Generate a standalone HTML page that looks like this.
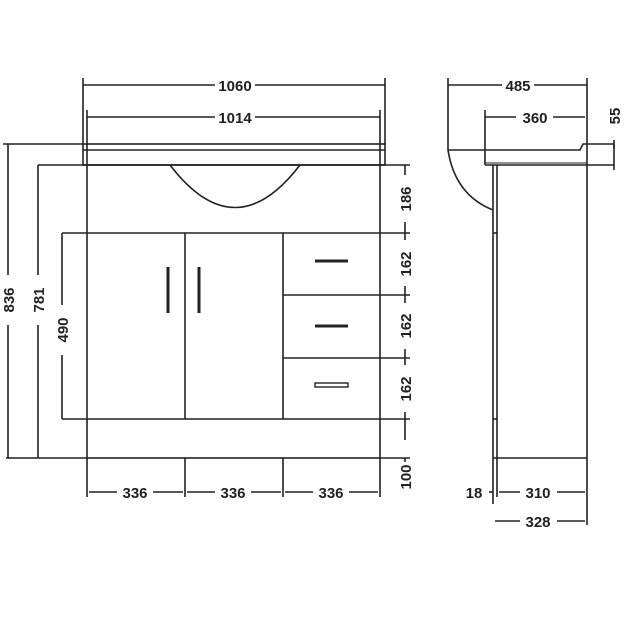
<!DOCTYPE html>
<html><head><style>
html,body{margin:0;padding:0;background:#fff}
svg{display:block}
text{font-family:"Liberation Sans",Arial,sans-serif;font-weight:bold;font-size:15px;fill:#222}
</style></head><body>
<svg width="629" height="629" viewBox="0 0 629 629" xmlns="http://www.w3.org/2000/svg">
<g stroke="#222" stroke-width="1.6" fill="none">
<!-- top dims -->
<line x1="83" y1="85" x2="215" y2="85"/><line x1="255" y1="85" x2="385" y2="85"/>
<line x1="83" y1="78" x2="83" y2="144"/><line x1="385" y1="78" x2="385" y2="144"/>
<line x1="87" y1="117" x2="215" y2="117"/><line x1="255" y1="117" x2="380" y2="117"/>
<line x1="87" y1="110" x2="87" y2="165"/><line x1="380" y1="110" x2="380" y2="165"/>
<!-- countertop -->
<rect x="83" y="144" width="302" height="21"/>
<line x1="83" y1="150" x2="385" y2="150"/>
<!-- basin -->
<path d="M170 165 Q235 250 300 165"/>
<!-- body -->
<rect x="87" y="165" width="293" height="293"/>
<line x1="62" y1="233" x2="380" y2="233"/>
<line x1="62" y1="419" x2="380" y2="419"/>
<line x1="185" y1="233" x2="185" y2="419"/>
<line x1="283" y1="233" x2="283" y2="419"/>
<line x1="283" y1="295" x2="410" y2="295"/>
<line x1="283" y1="358" x2="410" y2="358"/>
<!-- handles -->
<line x1="168" y1="267" x2="168" y2="313" stroke-width="3"/>
<line x1="199" y1="267" x2="199" y2="313" stroke-width="3"/>
<line x1="315" y1="261" x2="348" y2="261" stroke-width="3"/>
<line x1="315" y1="326" x2="348" y2="326" stroke-width="3"/>
<rect x="315" y="383" width="33" height="4" stroke-width="1.4"/>
<!-- left dims -->
<line x1="3" y1="144" x2="83" y2="144"/><line x1="6" y1="458" x2="87" y2="458"/>
<line x1="8" y1="144" x2="8" y2="275"/><line x1="8" y1="325" x2="8" y2="458"/>
<line x1="38" y1="165" x2="87" y2="165"/>
<line x1="38" y1="165" x2="38" y2="275"/><line x1="38" y1="325" x2="38" y2="458"/>
<line x1="62" y1="233" x2="62" y2="305"/><line x1="62" y1="355" x2="62" y2="419"/>
<!-- right dims -->
<line x1="380" y1="165" x2="410" y2="165"/>
<line x1="380" y1="233" x2="410" y2="233"/>
<line x1="380" y1="458" x2="410" y2="458"/>
<line x1="380" y1="419" x2="410" y2="419"/>
<line x1="405" y1="165" x2="405" y2="175"/><line x1="405" y1="222" x2="405" y2="240"/>
<line x1="405" y1="286" x2="405" y2="303"/><line x1="405" y1="349" x2="405" y2="365"/>
<line x1="405" y1="412" x2="405" y2="440"/><line x1="405" y1="458" x2="405" y2="462"/>
<!-- bottom dims -->
<line x1="87" y1="458" x2="87" y2="497"/><line x1="185" y1="458" x2="185" y2="497"/>
<line x1="283" y1="458" x2="283" y2="497"/><line x1="380" y1="458" x2="380" y2="497"/>
<line x1="89" y1="492" x2="117" y2="492"/><line x1="153" y1="492" x2="183" y2="492"/>
<line x1="187" y1="492" x2="215" y2="492"/><line x1="251" y1="492" x2="281" y2="492"/>
<line x1="285" y1="492" x2="313" y2="492"/><line x1="349" y1="492" x2="378" y2="492"/>
<!-- side view -->
<line x1="448" y1="78" x2="448" y2="150"/>
<line x1="587" y1="78" x2="587" y2="458"/>
<line x1="448" y1="85" x2="502" y2="85"/><line x1="534" y1="85" x2="587" y2="85"/>
<line x1="485" y1="110" x2="485" y2="165"/>
<line x1="485" y1="117" x2="516" y2="117"/><line x1="553" y1="117" x2="585" y2="117"/>
<path d="M448 150 L580 150 L583 144 L614 144"/>
<line x1="485" y1="165" x2="614" y2="165"/>
<line x1="485" y1="163" x2="587" y2="163" stroke-width="1"/>
<path d="M448 150 Q455 195 493 210"/>
<line x1="493" y1="165" x2="493" y2="504"/>
<line x1="497" y1="165" x2="497" y2="458"/>
<line x1="493" y1="233" x2="497" y2="233"/>
<line x1="493" y1="419" x2="497" y2="419"/>
<line x1="493" y1="458" x2="587" y2="458"/>
<line x1="587" y1="458" x2="587" y2="525"/>
<line x1="497" y1="458" x2="497" y2="497"/>
<line x1="614" y1="144" x2="614" y2="148"/><line x1="614" y1="140" x2="614" y2="170"/>
<line x1="489" y1="492" x2="493" y2="492"/>
<line x1="499" y1="492" x2="520" y2="492"/><line x1="557" y1="492" x2="585" y2="492"/>
<line x1="495" y1="521" x2="520" y2="521"/><line x1="557" y1="521" x2="585" y2="521"/>
</g>
<g text-anchor="middle">
<text x="235" y="91">1060</text>
<text x="235" y="123">1014</text>
<text x="135" y="498">336</text>
<text x="233" y="498">336</text>
<text x="331" y="498">336</text>
<text x="518" y="91">485</text>
<text x="535" y="123">360</text>
<text x="538" y="498">310</text>
<text x="538" y="527">328</text>
<text x="474" y="498">18</text>
<text transform="translate(14,300) rotate(-90)">836</text>
<text transform="translate(44,300) rotate(-90)">781</text>
<text transform="translate(68,330) rotate(-90)">490</text>
<text transform="translate(411,199) rotate(-90)">186</text>
<text transform="translate(411,264) rotate(-90)">162</text>
<text transform="translate(411,326) rotate(-90)">162</text>
<text transform="translate(411,389) rotate(-90)">162</text>
<text transform="translate(411,477) rotate(-90)">100</text>
<text transform="translate(620,116) rotate(-90)">55</text>
</g>
</svg>
</body></html>
